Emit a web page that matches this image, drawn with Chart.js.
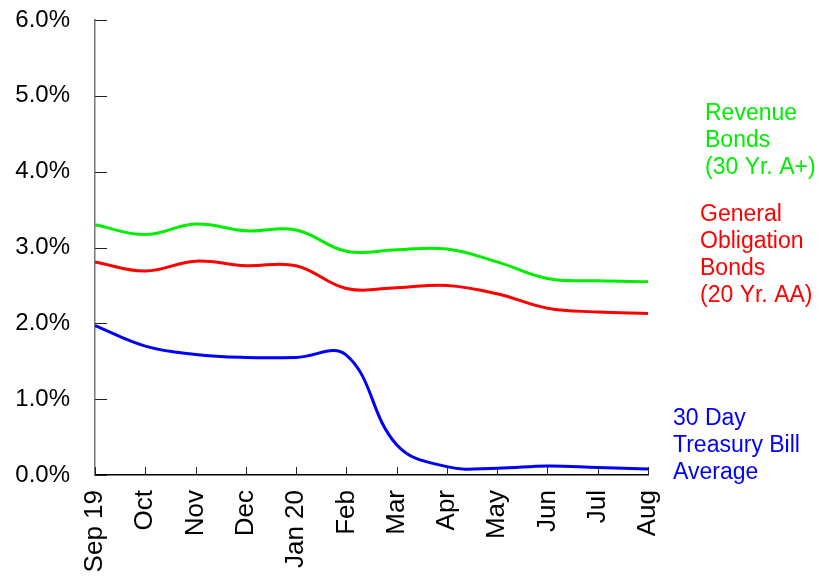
<!DOCTYPE html>
<html lang="en">
<head>
    <meta charset="UTF-8">
    <title>Municipal Bond Yields vs 30 Day Treasury Bill</title>
    <script src="https://cdn.jsdelivr.net/npm/chart.js"></script>
    <style>
        body {
            margin: 0;
            background: #fff;
        }
        #chart {
            display: block;
        }
    </style>
</head>
<body>
    <canvas id="chart" width="823" height="578"></canvas>

    <script>
        // Datos (en %)
        const months = ['Sep 19', 'Oct', 'Nov', 'Dec', 'Jan 20', 'Feb', 'Mar', 'Apr', 'May', 'Jun', 'Jul', 'Aug'];
        const revenueBonds = [3.30, 3.17, 3.31, 3.22, 3.23, 2.95, 2.97, 2.98, 2.81, 2.59, 2.56, 2.55];
        const generalObligation = [2.81, 2.69, 2.82, 2.76, 2.76, 2.46, 2.47, 2.50, 2.39, 2.20, 2.15, 2.13];
        const treasuryBill = [1.97, 1.70, 1.59, 1.55, 1.55, 1.58, 0.40, 0.11, 0.09, 0.12, 0.10, 0.08];
        const yTicks = [0, 1, 2, 3, 4, 5, 6];

        const FONT = "'Liberation Sans', Arial, sans-serif";

        // Etiquetas de series a la derecha
        const seriesLabels = [
            { lines: ['Revenue', 'Bonds', '(30 Yr. A+)'], color: '#00ee00', x: 705, y: 119.5 },
            { lines: ['General', 'Obligation', 'Bonds', '(20 Yr. AA)'], color: '#ff0000', x: 700, y: 220.5 },
            { lines: ['30 Day', 'Treasury Bill', 'Average'], color: '#0000ff', x: 673, y: 425 }
        ];

        // Marcas de eje hacia dentro + textos de series
        const extrasPlugin = {
            id: 'extras',
            afterDraw(chart) {
                const ctx = chart.ctx;
                const xs = chart.scales.x;
                const ys = chart.scales.y;
                ctx.save();
                ctx.strokeStyle = '#222';
                ctx.lineWidth = 1;
                ys.ticks.forEach(t => {
                    const py = Math.round(ys.getPixelForValue(t.value)) + 0.5;
                    ctx.beginPath();
                    ctx.moveTo(xs.left, py);
                    ctx.lineTo(xs.left + 12, py);
                    ctx.stroke();
                });
                months.forEach((m, i) => {
                    const px = Math.round(xs.getPixelForValue(i)) + 0.5;
                    ctx.beginPath();
                    ctx.moveTo(px, ys.bottom);
                    ctx.lineTo(px, ys.bottom - 8);
                    ctx.stroke();
                });

                ctx.font = '23px ' + FONT;
                ctx.textAlign = 'left';
                ctx.textBaseline = 'alphabetic';
                seriesLabels.forEach(s => {
                    ctx.fillStyle = s.color;
                    s.lines.forEach((line, k) => {
                        ctx.fillText(line, s.x, s.y + k * 27);
                    });
                });
                ctx.restore();
            }
        };

        const ctx = document.getElementById('chart').getContext('2d');
        new Chart(ctx, {
            type: 'line',
            data: {
                labels: months,
                datasets: [{
                    label: 'Revenue Bonds (30 Yr. A+)',
                    data: revenueBonds,
                    borderColor: '#00ee00'
                }, {
                    label: 'General Obligation Bonds (20 Yr. AA)',
                    data: generalObligation,
                    borderColor: '#ff0000'
                }, {
                    label: '30 Day Treasury Bill Average',
                    data: treasuryBill,
                    borderColor: '#0000ff'
                }]
            },
            options: {
                responsive: false,
                animation: false,
                devicePixelRatio: 1,
                layout: {
                    padding: { left: 0, right: 175, top: 20, bottom: 0 }
                },
                elements: {
                    line: { borderWidth: 3, tension: 0.4, fill: false },
                    point: { radius: 0 }
                },
                plugins: {
                    legend: { display: false },
                    tooltip: { enabled: false }
                },
                scales: {
                    x: {
                        offset: false,
                        grid: { display: false, drawTicks: false },
                        border: { display: true, color: '#000', width: 1.5 },
                        ticks: {
                            autoSkip: false,
                            minRotation: 90,
                            maxRotation: 90,
                            padding: 15,
                            color: '#000',
                            font: { family: FONT, size: 26 }
                        },
                        afterFit(scale) {
                            scale.height = 103;
                            scale.paddingLeft = 0;
                            scale.paddingRight = 0;
                        }
                    },
                    y: {
                        min: 0,
                        max: 6,
                        afterBuildTicks(scale) {
                            scale.ticks = yTicks.map(v => ({ value: v }));
                        },
                        grid: { display: false, drawTicks: false },
                        border: { display: true, color: '#777', width: 1.5 },
                        ticks: {
                            padding: 25,
                            color: '#000',
                            font: { family: FONT, size: 24 },
                            callback: v => v.toFixed(1) + '%'
                        },
                        afterFit(scale) {
                            scale.width = 95;
                            scale.paddingTop = 0;
                            scale.paddingBottom = 0;
                        }
                    }
                }
            },
            plugins: [extrasPlugin]
        });
    </script>
</body>
</html>
